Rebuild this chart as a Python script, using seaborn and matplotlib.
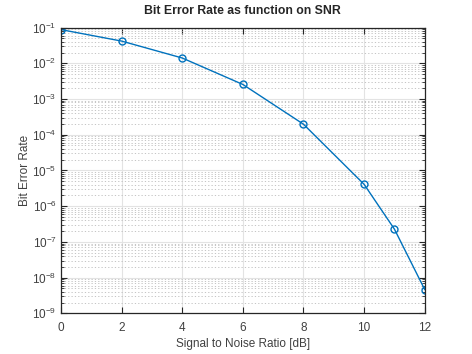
import matplotlib
matplotlib.use("Agg")
import matplotlib.pyplot as plt
import matplotlib.ticker as mticker
import seaborn as sns
import pandas as pd

# values
snr_db = [0, 2, 4, 6, 8, 10, 11, 12]
ber = [0.088, 0.042, 0.0141, 2.56e-3, 1.97e-4, 4.07e-6, 2.26e-7, 4.57e-9]
x_ticks = [0, 2, 4, 6, 8, 10, 12]
y_ticks = [1e-9, 1e-8, 1e-7, 1e-6, 1e-5, 1e-4, 1e-3, 1e-2, 1e-1]

df = pd.DataFrame({"snr": snr_db, "ber": ber})

sns.set_theme(style="white")
plt.rcParams["font.family"] = ["Liberation Sans", "DejaVu Sans"]
plt.rcParams["mathtext.fontset"] = "custom"
plt.rcParams["mathtext.rm"] = "Liberation Sans"
plt.rcParams["mathtext.it"] = "Liberation Sans:italic"

fig = plt.figure(figsize=(4.72, 3.54), dpi=100)
ax = fig.add_axes([0.129, 0.115, 0.771, 0.807])

sns.lineplot(
    data=df, x="snr", y="ber", ax=ax, color="#0072BD", linewidth=1.0,
    marker="o", markersize=5, markerfacecolor="none",
    markeredgecolor="#0072BD", markeredgewidth=1.0,
)

ax.set_yscale("log")
ax.set_xlim(0, 12)
ax.set_ylim(1e-9, 1e-1)
ax.set_xticks(x_ticks)
ax.yaxis.set_major_locator(mticker.FixedLocator(y_ticks))
ax.yaxis.set_major_formatter(mticker.LogFormatterSciNotation())
ax.yaxis.set_minor_locator(mticker.LogLocator(base=10, subs=range(2, 10), numticks=100))
ax.yaxis.set_minor_formatter(mticker.NullFormatter())

ax.grid(which="major", axis="both", color="#e3e3e3", linewidth=0.8, linestyle="-")
ax.grid(which="minor", axis="y", color="#bcbcbc", linewidth=0.6, linestyle=(0, (1.5, 2.5)))
ax.set_axisbelow(True)

for s in ax.spines.values():
    s.set_color("#262626")
    s.set_linewidth(0.9)

ax.tick_params(which="both", direction="in", top=True, right=True,
               left=True, bottom=True, colors="#262626", labelsize=8.5)
ax.tick_params(which="major", length=4, width=0.8)
ax.tick_params(which="minor", length=2, width=0.6)
ax.tick_params(axis="x", labelcolor="#404040", pad=6)
ax.tick_params(axis="y", labelcolor="#404040", pad=3)

ax.set_title("Bit Error Rate as function on SNR", fontsize=8.8, fontweight="bold", pad=10)
ax.set_xlabel("Signal to Noise Ratio [dB]", fontsize=8.5, color="#404040", labelpad=3)
ax.set_ylabel("Bit Error Rate", fontsize=8.5, color="#404040", labelpad=1)

fig.savefig("out.png", dpi=100)
